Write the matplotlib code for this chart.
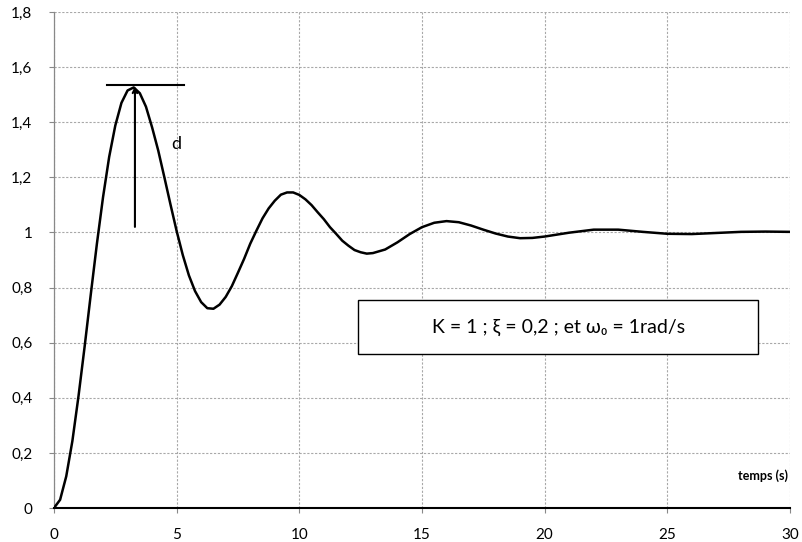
import matplotlib.pyplot as plt
from matplotlib.patches import Rectangle

plt.rcParams['font.family'] = ['Lato', 'DejaVu Sans']

# step response
t = [0, 0.25, 0.5, 0.75, 1.0, 1.25, 1.5, 1.75, 2.0, 2.25, 2.5, 2.75,
     3.0, 3.25, 3.5, 3.75, 4.0, 4.25, 4.5, 4.75, 5.0, 5.25, 5.5, 5.75,
     6.0, 6.25, 6.5, 6.75, 7.0, 7.25, 7.5, 7.75, 8.0, 8.25, 8.5, 8.75,
     9.0, 9.25, 9.5, 9.75, 10.0, 10.25, 10.5, 10.75, 11.0, 11.25, 11.5, 11.75,
     12.0, 12.25, 12.5, 12.75, 13.0, 13.5, 14.0, 14.5, 15.0, 15.5, 16.0,
     16.5, 17.0, 17.5, 18.0, 18.5, 19.0, 19.5, 20.0, 21, 22, 23, 24, 25,
     26, 27, 28, 29, 30]
y = [0, 0.030, 0.115, 0.243, 0.406, 0.586, 0.775, 0.959, 1.128, 1.274, 1.388, 1.470,
     1.515, 1.526, 1.505, 1.456, 1.381, 1.297, 1.200, 1.101, 1.005, 0.918, 0.844, 0.787,
     0.747, 0.725, 0.723, 0.738, 0.766, 0.805, 0.854, 0.904, 0.959, 1.006, 1.051, 1.087,
     1.115, 1.137, 1.145, 1.145, 1.136, 1.120, 1.099, 1.073, 1.048, 1.019, 0.995, 0.970,
     0.952, 0.936, 0.928, 0.923, 0.925, 0.938, 0.964, 0.994, 1.019, 1.035, 1.041,
     1.037, 1.025, 1.010, 0.996, 0.985, 0.979, 0.980, 0.985, 0.999, 1.010, 1.010, 1.002, 0.995,
     0.994, 0.998, 1.002, 1.003, 1.002]

xticks = [0, 5, 10, 15, 20, 25, 30]
yticks = [0, 0.2, 0.4, 0.6, 0.8, 1.0, 1.2, 1.4, 1.6, 1.8]
ylabels = ['0', '0,2', '0,4', '0,6', '0,8', '1', '1,2', '1,4', '1,6', '1,8']
params = 'K = 1 ; ξ = 0,2 ; et ω₀ = 1rad/s'

fig = plt.figure(figsize=(8.02, 5.42), dpi=100)
ax = fig.add_axes([0.0673, 0.0627, 0.9177, 0.9153])

ax.plot(t, y, color='black', lw=1.8, zorder=3)

ax.set_xlim(0, 30)
ax.set_ylim(0, 1.8)
ax.set_xticks(xticks)
ax.set_yticks(yticks)
ax.set_yticklabels(ylabels)
ax.tick_params(axis='y', length=3.5, width=0.8, color='#888888', pad=12, labelsize=11)
ax.tick_params(axis='x', length=3.5, width=0.8, color='#888888', pad=11, labelsize=11)
ax.grid(True, color='#a8a8a8', lw=0.8, linestyle=(0, (2, 1.5)))
ax.set_axisbelow(True)

for side in ['top', 'right']:
    ax.spines[side].set_visible(False)
ax.spines['left'].set_color('#888888')
ax.spines['left'].set_linewidth(0.9)
ax.spines['bottom'].set_color('black')
ax.spines['bottom'].set_linewidth(1.5)

# overshoot marker
ax.plot([2.15, 5.3], [1.535, 1.535], color='black', lw=1.5, zorder=4)
ax.annotate('', xy=(3.3, 1.53), xytext=(3.3, 1.02),
            arrowprops=dict(arrowstyle='->', color='black', lw=1.5,
                            mutation_scale=8, shrinkA=0, shrinkB=0))
ax.text(5.0, 1.32, 'd', fontsize=13, ha='center', va='center')

# parameter box
ax.add_patch(Rectangle((12.4, 0.559), 16.3, 0.196, facecolor='white',
                       edgecolor='black', lw=1.0, zorder=5))
ax.text(20.55, 0.657, params, fontsize=14, ha='center', va='center', zorder=6)

ax.text(29.9, 0.116, 'temps (s)', fontsize=9, fontweight='bold',
        ha='right', va='center')

fig.savefig('out.png', dpi=100)
